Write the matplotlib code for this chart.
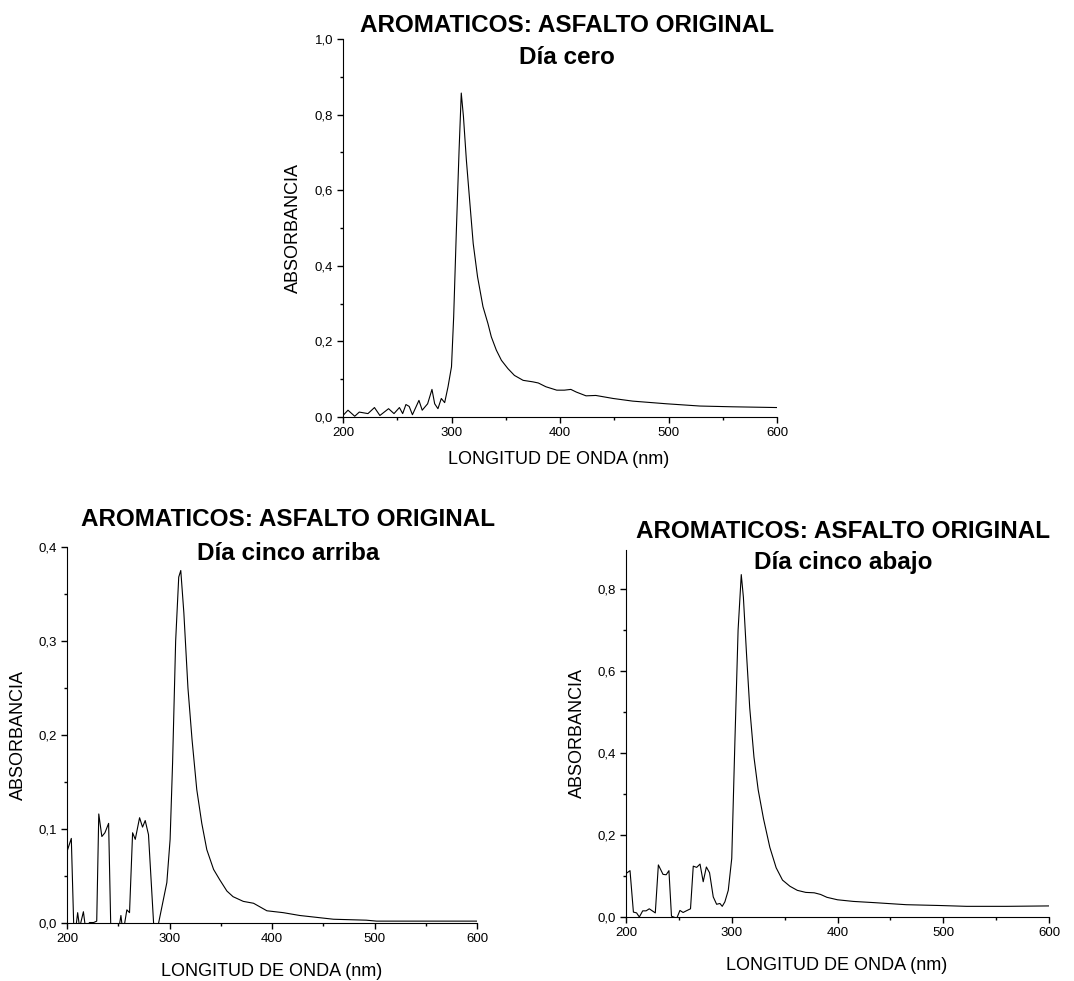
import matplotlib
matplotlib.use("Agg")
import matplotlib.pyplot as plt
from matplotlib.ticker import MultipleLocator, FuncFormatter
import numpy as np

plt.rcParams['font.family'] = ['Liberation Sans', 'DejaVu Sans']

# --- datos ---
# dia cero
x_cero = [200, 204.6, 210.8, 215, 223, 229, 234, 242, 247, 252, 255, 258, 261, 264, 270, 273,
          278, 282, 284.5, 287.5, 290.6, 293.7, 296.8, 300, 302, 304.4, 307, 309, 311, 313.7,
          316.7, 320, 324, 329, 333.6, 336.7, 341.3, 346, 352, 358, 366, 375, 380, 387, 397,
          404, 410, 415, 424, 433, 449, 467, 498, 529, 559, 600]
y_cero = [0.004, 0.018, 0.002, 0.013, 0.009, 0.025, 0.004, 0.022, 0.009, 0.025, 0.009, 0.033,
          0.028, 0.006, 0.044, 0.018, 0.035, 0.073, 0.035, 0.022, 0.049, 0.038, 0.080, 0.133,
          0.265, 0.486, 0.707, 0.857, 0.795, 0.680, 0.574, 0.459, 0.371, 0.292, 0.247, 0.212,
          0.177, 0.150, 0.128, 0.110, 0.097, 0.093, 0.090, 0.080, 0.071, 0.071, 0.073, 0.066,
          0.056, 0.057, 0.049, 0.042, 0.035, 0.029, 0.027, 0.025]

# dia cinco arriba
x_arriba = [200, 204.2, 207, 210.4, 212.3, 216, 218, 222, 226, 229, 231, 234, 237, 240.6, 243,
            250, 252.6, 254, 256, 258.4, 261, 264, 266.6, 270.8, 273.7, 276.3, 279.5, 285, 289,
            297.4, 300.6, 303, 306, 309, 311, 314, 318, 322, 326.6, 331.5, 336.4, 343, 349, 356,
            362, 372, 382, 395, 411, 427, 443.5, 460, 492, 502, 600]
y_arriba = [0.076, 0.090, -0.02, 0.011, -0.005, 0.012, -0.005, 0.0005, 0.0005, 0.002, 0.116,
            0.092, 0.096, 0.106, -0.02, -0.01, 0.008, -0.005, -0.002, 0.014, 0.011, 0.096, 0.089,
            0.112, 0.102, 0.109, 0.094, -0.01, -0.002, 0.043, 0.089, 0.170, 0.300, 0.368, 0.375,
            0.330, 0.250, 0.195, 0.142, 0.106, 0.078, 0.057, 0.046, 0.034, 0.028, 0.023, 0.021,
            0.013, 0.011, 0.008, 0.006, 0.004, 0.003, 0.002, 0.002]

# dia cinco abajo
x_abajo = [200, 203.8, 207, 210, 212.6, 215.8, 219, 222, 227.7, 230.6, 235, 238, 240.6, 243,
           248, 251, 254, 257, 261, 263.6, 266.8, 270, 273, 276, 279, 282.5, 285.7, 288.8, 291,
           293.5, 296.7, 300, 303, 306, 309, 311, 314, 317, 321, 325, 330, 336, 342, 348, 355,
           362, 370, 378, 384, 390, 400, 415, 435, 465, 497, 522, 560, 600]
y_abajo = [0.106, 0.113, 0.012, 0.010, 0.0, 0.015, 0.015, 0.020, 0.010, 0.127, 0.104, 0.103,
           0.113, 0.002, -0.003, 0.016, 0.011, 0.015, 0.020, 0.124, 0.121, 0.129, 0.086, 0.122,
           0.108, 0.049, 0.031, 0.033, 0.026, 0.037, 0.065, 0.143, 0.430, 0.700, 0.835, 0.780,
           0.640, 0.510, 0.390, 0.310, 0.240, 0.170, 0.120, 0.090, 0.075, 0.065, 0.060, 0.059,
           0.055, 0.048, 0.042, 0.038, 0.035, 0.030, 0.028, 0.026, 0.026, 0.027]

W, H = 1074, 981
fig = plt.figure(figsize=(W / 100, H / 100), dpi=100)


def px(x, y):
    # pixeles -> fraccion de figura
    return x / W, 1 - y / H


def coma(v, pos):
    return ("%.1f" % v).replace(".", ",")


def panel(rect, x, y, ymax, ymaj, ymin):
    l, t, r, b = rect
    ax = fig.add_axes([l / W, 1 - b / H, (r - l) / W, (b - t) / H])
    ax.plot(x, y, color='black', lw=0.8)
    ax.set_xlim(200, 600)
    ax.set_ylim(0, ymax)
    ax.spines['top'].set_visible(False)
    ax.spines['right'].set_visible(False)
    ax.xaxis.set_major_locator(MultipleLocator(100))
    ax.xaxis.set_minor_locator(MultipleLocator(50))
    ax.yaxis.set_major_locator(MultipleLocator(ymaj))
    ax.yaxis.set_minor_locator(MultipleLocator(ymin))
    ax.yaxis.set_major_formatter(FuncFormatter(coma))
    ax.tick_params(which='major', direction='out', length=4, width=1, labelsize=9.5, pad=3)
    ax.tick_params(which='minor', direction='out', length=2.5, width=1)
    return ax


panel((343, 39, 777, 417), x_cero, y_cero, 1.0, 0.2, 0.1)
panel((67, 547, 477, 923), x_arriba, y_arriba, 0.4, 0.1, 0.05)
panel((626, 550, 1049, 917), x_abajo, y_abajo, 0.895, 0.2, 0.1)

# titulos
titulo = "AROMATICOS: ASFALTO ORIGINAL"
for (cx, y1, y2, sub) in [(567, 25, 58, "Día cero"),
                          (288, 520, 553, "Día cinco arriba"),
                          (843, 531, 563, "Día cinco abajo")]:
    fig.text(*px(cx, y1), titulo, ha='center', va='center', fontsize=17.5, fontweight='bold')
    fig.text(*px(cx, y2), sub, ha='center', va='center', fontsize=17.5, fontweight='bold')

# etiquetas de ejes
for (cx, cy) in [(559, 460), (272, 972), (837, 965)]:
    fig.text(*px(cx, cy), "LONGITUD DE ONDA (nm)", ha='center', va='center', fontsize=13)
for (cx, cy) in [(293, 228), (18, 735), (577, 733)]:
    fig.text(*px(cx, cy), "ABSORBANCIA", ha='center', va='center', fontsize=13, rotation=90)

fig.savefig("out.png", dpi=100)
